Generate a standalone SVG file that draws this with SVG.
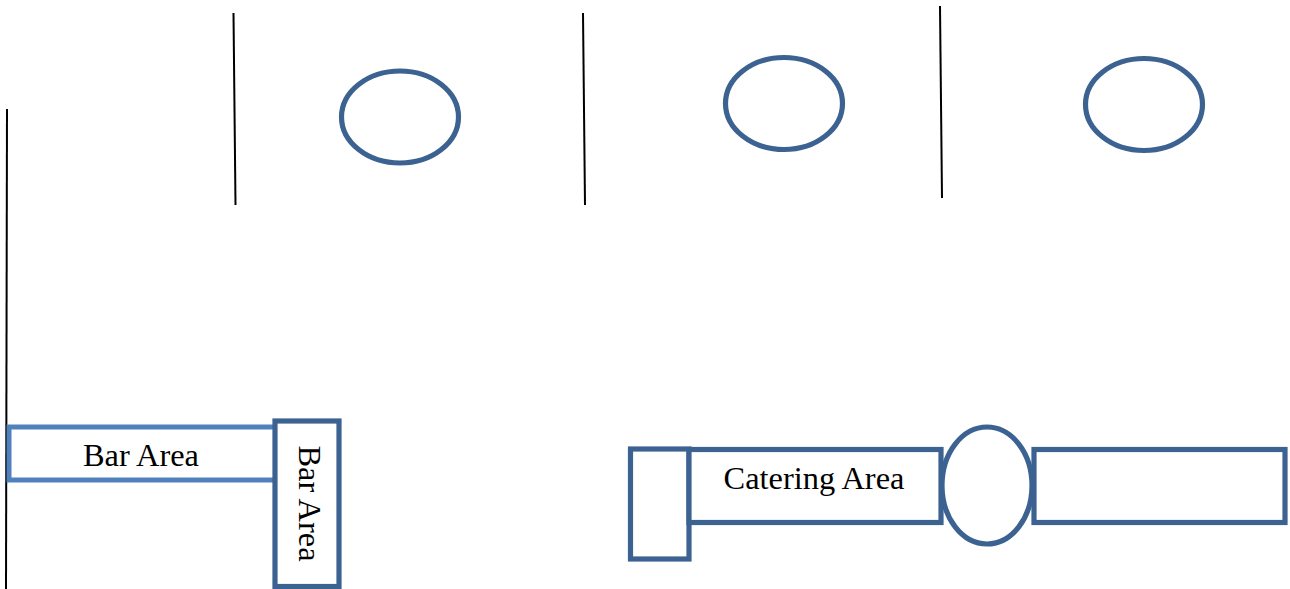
<svg xmlns="http://www.w3.org/2000/svg" width="1290" height="589" viewBox="0 0 1290 589">
<style>
.s{fill:#fff;stroke:#3c6291;stroke-width:5.200}
.l{stroke:#000;stroke-width:2;fill:none}
text{font-family:"Liberation Serif","Times New Roman",serif;font-size:32.400px;fill:#000}
</style>
<rect width="1290" height="589" fill="#fff"/>
<g id="walls">
<line class="l" x1="7" y1="109" x2="6" y2="589"/>
<line class="l" x1="233.500" y1="13" x2="235.500" y2="205"/>
<line class="l" x1="583" y1="13" x2="585" y2="205"/>
<line class="l" x1="940" y1="6" x2="942" y2="198"/>
</g>
<g id="table1"><ellipse class="s" cx="400" cy="117" rx="58.500" ry="46"/></g>
<g id="table2"><ellipse class="s" cx="784" cy="103.500" rx="58.500" ry="46"/></g>
<g id="table3"><ellipse class="s" cx="1144" cy="104.500" rx="58.500" ry="46"/></g>
<g id="bar-h"><rect x="9" y="427" width="267" height="53" style="fill:#fff;stroke:#4f81bd;stroke-width:5"/><text x="141" y="466" text-anchor="middle">Bar Area</text></g>
<g id="bar-v"><rect class="s" x="275" y="421" width="64" height="165.500"/><text transform="translate(299,503.500) rotate(90)" text-anchor="middle">Bar Area</text></g>
<g id="cater-end"><rect class="s" x="630.500" y="449" width="58.500" height="110"/></g>
<g id="catering"><rect class="s" x="689" y="449.500" width="252" height="73"/><text x="814" y="489" text-anchor="middle">Catering Area</text></g>
<g id="cater-right"><rect class="s" x="1034" y="449.500" width="251" height="73"/></g>
<g id="cater-oval"><ellipse class="s" cx="987" cy="485.500" rx="45" ry="58.500"/></g>
</svg>
